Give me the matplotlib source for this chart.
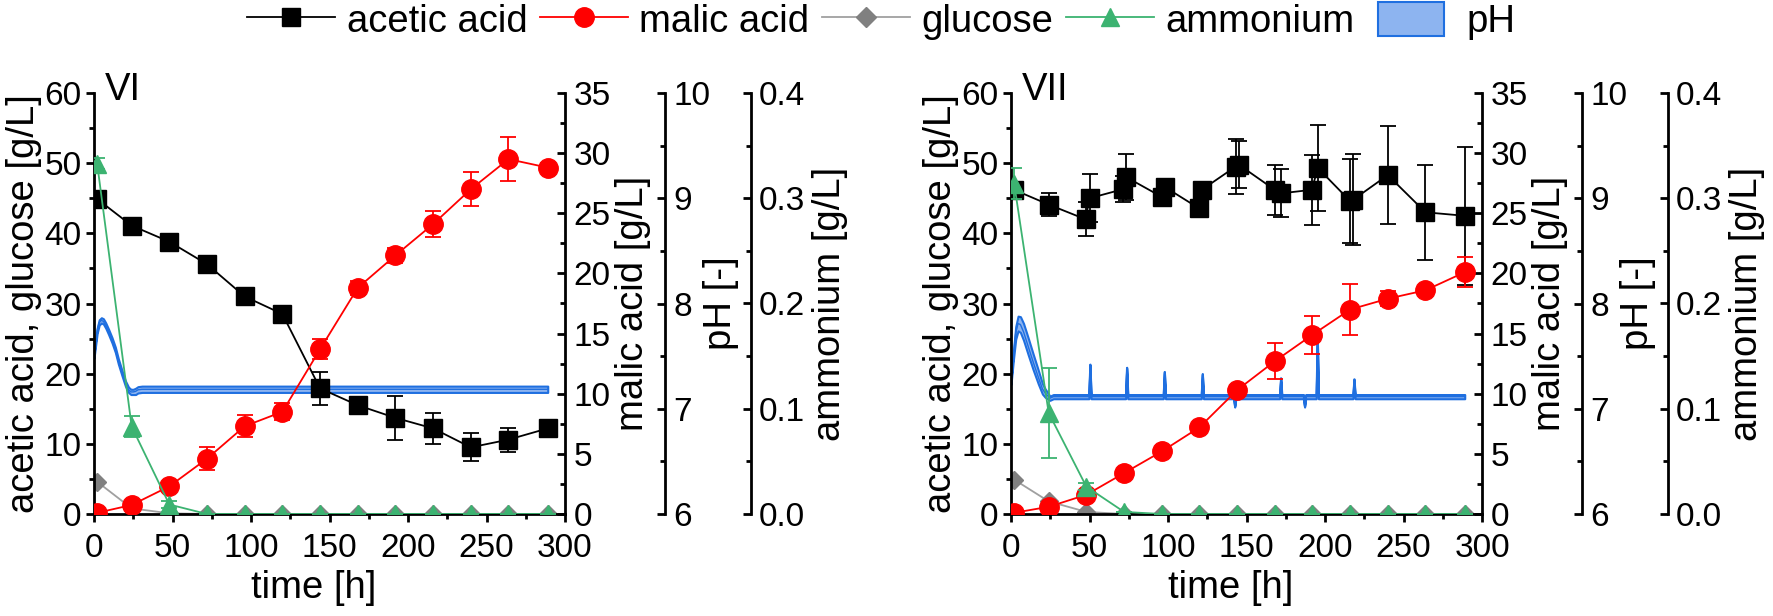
import numpy as np
import matplotlib.pyplot as plt
from matplotlib.lines import Line2D
from matplotlib.patches import Patch, Rectangle
from matplotlib.legend_handler import HandlerPatch
from matplotlib.ticker import MultipleLocator, FormatStrFormatter

plt.rcParams['font.family'] = ['Liberation Sans', 'DejaVu Sans']

# ---- panel VI ----
t_vi = [2, 24, 48, 72, 96, 120, 144, 168, 192, 216, 240, 264, 289]
acetic_vi = [44.9, 41.1, 38.8, 35.6, 31.0, 28.5, 17.9, 15.5, 13.7, 12.2, 9.5, 10.6, 12.2]
acetic_vi_err = [0.4, 0.5, 0.5, 0.4, 0.4, 0.4, 2.3, 0.5, 3.1, 2.2, 2.0, 1.7, 0.6]
malic_vi = [0.1, 0.75, 2.3, 4.6, 7.3, 8.5, 13.7, 18.8, 21.5, 24.1, 27.0, 29.5, 28.8]
malic_vi_err = [0.1, 0.2, 0.3, 0.95, 0.9, 0.7, 0.85, 0.6, 0.6, 1.05, 1.4, 1.85, 0.4]
glucose_vi = [4.6, 0.8, 0.1, 0, 0, 0, 0, 0, 0, 0, 0, 0, 0]
ammonium_vi = [0.333, 0.083, 0.009, 0, 0, 0, 0, 0, 0, 0, 0, 0, 0]
ammonium_vi_err = [0.005, 0.01, 0.003, 0, 0, 0, 0, 0, 0, 0, 0, 0, 0]

ph_vi_t = [0, 2, 3.3, 4.7, 6, 7.5, 9.3, 11.5, 13.6, 15.5, 17.8, 20, 22, 23.5, 25, 26.5, 28, 30.6, 289]
ph_vi = [7.50, 7.74, 7.82, 7.84, 7.83, 7.79, 7.73, 7.65, 7.56, 7.45, 7.34, 7.24, 7.18, 7.16, 7.16,
         7.165, 7.18, 7.185, 7.185]
ph_vi_sd = [0.02, 0.025, 0.025, 0.025, 0.025, 0.025, 0.025, 0.025, 0.025, 0.025, 0.025, 0.025,
            0.025, 0.025, 0.025, 0.03, 0.03, 0.03, 0.03]

# ---- panel VII ----
t_vii = [2, 24, 48, 72, 96, 120, 144, 168, 192, 216, 240, 264, 289]
t_ac_vii = [2, 24, 47.5, 50, 71.5, 73.5, 96, 98, 119.5, 121.5, 143, 145, 168, 172,
            191.5, 195.5, 216, 218, 240, 264, 289]
acetic_vii = [46.2, 44.1, 42.0, 45.0, 46.3, 48.0, 45.2, 46.6, 43.6, 46.2, 49.5, 49.8, 46.2, 45.7,
              46.2, 49.3, 44.6, 44.8, 48.3, 43.0, 42.5]
acetic_vii_err = [0.6, 1.7, 2.4, 3.4, 1.9, 3.3, 0.8, 1.0, 0.6, 0.8, 3.9, 3.3, 3.6, 3.4,
                  5.0, 6.1, 6.0, 6.5, 7.0, 6.8, 9.8]
malic_vii = [0.1, 0.6, 1.6, 3.4, 5.2, 7.2, 10.3, 12.7, 14.9, 17.0, 17.9, 18.6, 20.1]
malic_vii_err = [0.1, 0.2, 0.2, 0.2, 0.2, 0.2, 0.3, 1.5, 1.6, 2.15, 0.6, 0.3, 1.25]
glucose_vii = [4.9, 1.8, 0.3, 0, 0, 0, 0, 0, 0, 0, 0, 0, 0]
ammonium_vii = [0.314, 0.096, 0.026, 0.002, 0, 0, 0, 0, 0, 0, 0, 0, 0]
ammonium_vii_err = [0.015, 0.043, 0.003, 0, 0, 0, 0, 0, 0, 0, 0, 0, 0]

ph_vii_t = [0, 1.5, 3, 4.5, 6, 8, 11, 14, 17.4, 20, 21.7, 24.8, 27,
            49.6, 50.3, 51.0, 73.0, 73.7, 74.4, 97.0, 97.7, 98.4, 121.2, 121.9, 122.6,
            141.8, 142.5, 143.2, 171.1, 171.8, 172.5, 186.3, 187.0, 187.7,
            194.4, 195.1, 195.8, 217.8, 218.5, 219.2, 289]
ph_vii = [7.25, 7.50, 7.72, 7.81, 7.80, 7.73, 7.59, 7.45, 7.30, 7.19, 7.15, 7.10, 7.115,
          7.115, 7.42, 7.115, 7.115, 7.39, 7.115, 7.115, 7.35, 7.115, 7.115, 7.33, 7.115,
          7.115, 7.02, 7.115, 7.115, 7.29, 7.115, 7.115, 7.02, 7.115,
          7.115, 7.69, 7.115, 7.115, 7.28, 7.115, 7.115]
ph_vii_sd = [0.02, 0.04, 0.06, 0.07, 0.075, 0.08, 0.08, 0.075, 0.065, 0.05, 0.04, 0.02, 0.02,
             0.02, 0.004, 0.02, 0.02, 0.004, 0.02, 0.02, 0.004, 0.02, 0.02, 0.004, 0.02,
             0.02, 0.004, 0.02, 0.02, 0.004, 0.02, 0.02, 0.004, 0.02,
             0.02, 0.004, 0.02, 0.02, 0.004, 0.02, 0.02]

BLACK = 'black'
RED = '#ff0000'
GRAY = '#808080'
GRAY_LINE = '#a0a0a0'
GREEN = '#3cb371'
PH_EDGE = '#1f6fe0'
PH_FILL = '#8db4f0'

TICK_FS = 24
LABEL_FS = 27.5
SPINE_W = 2

fig = plt.figure(figsize=(17.73, 6.16), dpi=100)
fig.patch.set_facecolor('white')

W, H = 1773, 616


def style_right(axx, pos=None):
    for s in ['top', 'bottom', 'left']:
        axx.spines[s].set_visible(False)
    axx.spines['right'].set_linewidth(SPINE_W)
    if pos is not None:
        axx.spines['right'].set_position(('axes', pos))
    axx.tick_params(axis='y', which='major', direction='in', length=6, width=SPINE_W,
                    labelsize=TICK_FS, pad=6)
    axx.tick_params(axis='y', which='minor', direction='in', length=3.5, width=SPINE_W)


def draw_panel(left_px, roman, t, acetic_t, acetic, acetic_err, malic, malic_err,
               glucose, ammonium, ammonium_err, ph_t, ph, ph_sd):
    left = left_px / W
    width = 471 / W
    bottom = (H - 514) / H
    height = 421 / H
    ax = fig.add_axes([left, bottom, width, height])
    ax.patch.set_visible(False)
    ax.set_zorder(2)

    axm = ax.twinx()
    axm.set_zorder(3)
    axp = ax.twinx()
    axp.set_zorder(1)
    axn = ax.twinx()
    axn.set_zorder(4)

    # pH band (mean +/- sd)
    ph = np.array(ph)
    ph_sd = np.array(ph_sd)
    axp.fill_between(ph_t, ph - ph_sd, ph + ph_sd, facecolor=PH_FILL, edgecolor=PH_EDGE,
                     lw=1.5)
    axp.plot(ph_t, ph, color=PH_EDGE, lw=1.0)

    # acetic acid + glucose
    ax.plot(t, glucose, '-D', color=GRAY_LINE, mfc=GRAY, mec=GRAY, ms=9, lw=1.3)
    ax.errorbar(acetic_t, acetic, yerr=acetic_err, fmt='-s', color=BLACK, ms=13, lw=1.3,
                elinewidth=1.3, capsize=6, capthick=1.3)
    # malic acid
    axm.errorbar(t, malic, yerr=malic_err, fmt='-o', color=RED, ms=14, lw=1.3,
                 elinewidth=1.3, capsize=6, capthick=1.3)
    # ammonium
    axn.errorbar(t, ammonium, yerr=ammonium_err, fmt='-^', color=GREEN, ms=13, lw=1.3,
                 elinewidth=1.3, capsize=6, capthick=1.3)

    ax.set_xlim(0, 300)
    ax.set_ylim(0, 60)
    axm.set_ylim(0, 35)
    axp.set_ylim(6, 10)
    axn.set_ylim(0, 0.4)

    ax.spines['top'].set_visible(False)
    ax.spines['right'].set_visible(False)
    ax.spines['left'].set_linewidth(SPINE_W)
    ax.spines['bottom'].set_linewidth(SPINE_W)
    ax.xaxis.set_major_locator(MultipleLocator(50))
    ax.xaxis.set_minor_locator(MultipleLocator(25))
    ax.yaxis.set_major_locator(MultipleLocator(10))
    ax.yaxis.set_minor_locator(MultipleLocator(5))
    ax.tick_params(which='major', direction='out', length=6, width=SPINE_W,
                   labelsize=TICK_FS, pad=3)
    ax.tick_params(which='minor', direction='out', length=3.5, width=SPINE_W)
    ax.tick_params(axis='x', which='major', pad=8)
    ax.tick_params(top=False, right=False)

    style_right(axm)
    axm.yaxis.set_major_locator(MultipleLocator(5))
    axm.yaxis.set_minor_locator(MultipleLocator(2.5))
    style_right(axp, 1.213)
    axp.yaxis.set_major_locator(MultipleLocator(1))
    axp.yaxis.set_minor_locator(MultipleLocator(0.5))
    style_right(axn, 1.394)
    axn.yaxis.set_major_locator(MultipleLocator(0.1))
    axn.yaxis.set_minor_locator(MultipleLocator(0.05))
    axn.yaxis.set_major_formatter(FormatStrFormatter('%.1f'))

    ax.set_ylabel('acetic acid, glucose [g/L]', fontsize=LABEL_FS)
    ax.yaxis.set_label_coords(-0.11, 0.5)
    ax.set_xlabel('time [h]', fontsize=LABEL_FS)
    ax.xaxis.set_label_coords(0.466, -0.133)
    axm.set_ylabel('malic acid [g/L]', fontsize=LABEL_FS)
    axm.yaxis.set_label_coords(1.107, 0.5)
    axp.set_ylabel('pH [-]', fontsize=LABEL_FS)
    axp.yaxis.set_label_coords(1.293, 0.5)
    axn.set_ylabel('ammonium [g/L]', fontsize=LABEL_FS)
    axn.yaxis.set_label_coords(1.524, 0.5)

    ax.text(0.022, 1.006, roman, transform=ax.transAxes, fontsize=LABEL_FS,
            va='center', ha='left')
    return ax


draw_panel(94, 'VI', t_vi, t_vi, acetic_vi, acetic_vi_err, malic_vi, malic_vi_err,
           glucose_vi, ammonium_vi, ammonium_vi_err, ph_vi_t, ph_vi, ph_vi_sd)
draw_panel(1011, 'VII', t_vii, t_ac_vii, acetic_vii, acetic_vii_err, malic_vii, malic_vii_err,
           glucose_vii, ammonium_vii, ammonium_vii_err, ph_vii_t, ph_vii, ph_vii_sd)


def small_patch(legend, orig_handle, xdescent, ydescent, width, height, fontsize):
    w = 0.75 * width
    return Rectangle((-xdescent + (width - w) / 2, -ydescent), w, height)


handles = [
    Line2D([], [], color=BLACK, marker='s', ms=13, lw=1.3),
    Line2D([], [], color=RED, marker='o', ms=14, lw=1.3),
    Line2D([], [], color=GRAY_LINE, marker='D', mfc=GRAY, mec=GRAY, ms=10, lw=1.3),
    Line2D([], [], color=GREEN, marker='^', ms=13, lw=1.3),
    Patch(facecolor=PH_FILL, edgecolor=PH_EDGE, lw=1.5),
]
labels = ['acetic acid', 'malic acid', 'glucose', 'ammonium', 'pH']
fig.legend(handles, labels, loc='upper center', bbox_to_anchor=(0.497, 1.0), ncol=5,
           frameon=False, fontsize=LABEL_FS, handlelength=2.3, handleheight=1.0,
           handletextpad=0.3, columnspacing=0.33, borderpad=0.05, borderaxespad=0,
           handler_map={Patch: HandlerPatch(patch_func=small_patch)})

fig.savefig('out.png', dpi=100, facecolor='white')
